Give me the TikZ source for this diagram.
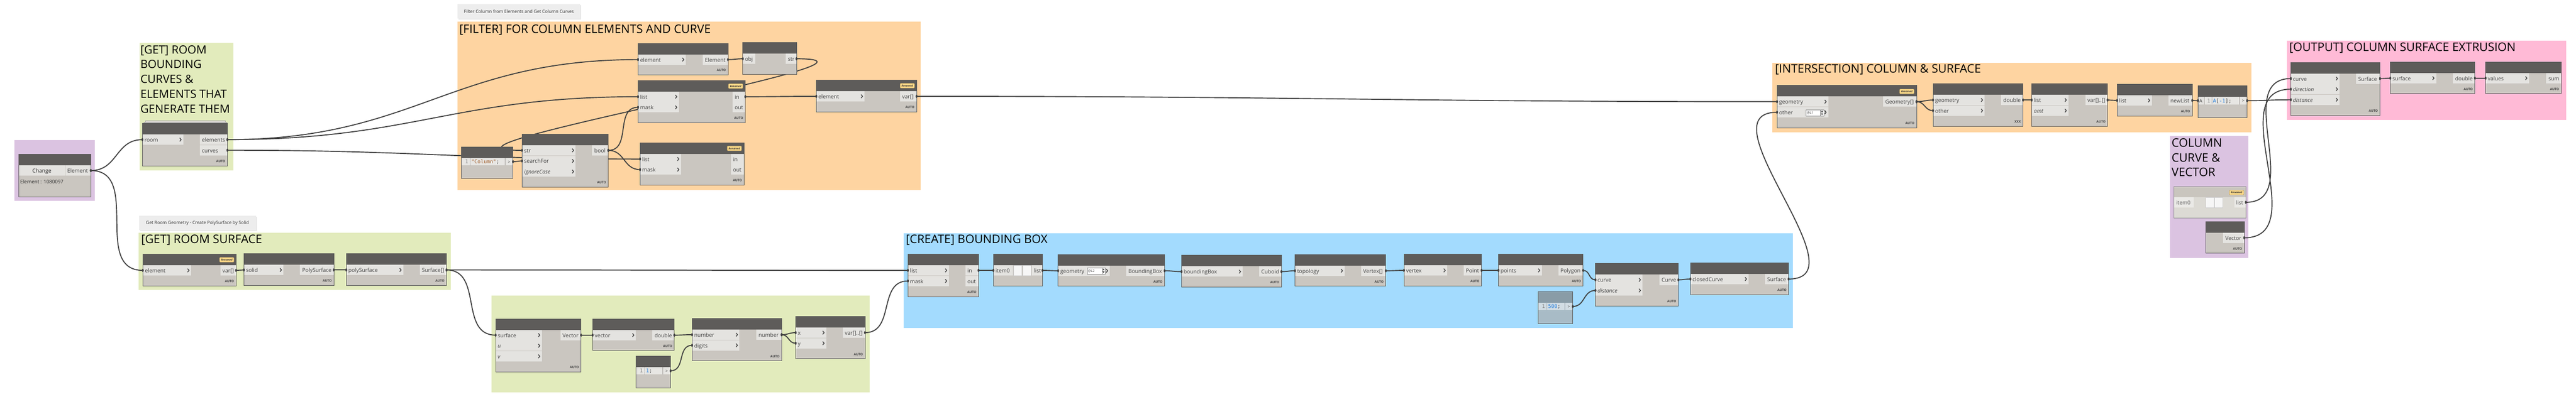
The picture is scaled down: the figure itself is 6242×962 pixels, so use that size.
\documentclass[tikz,border=0pt]{standalone}
\usepackage{fontspec}
\setmainfont{Open Sans}
\newfontfamily\codefont{DejaVu Sans Mono}
\usetikzlibrary{calc}
\pgfdeclarelayer{grp}
\pgfdeclarelayer{wires}
\pgfsetlayers{grp,wires,main}

\definecolor{hdc}{RGB}{94,92,90}
\definecolor{bdc}{RGB}{202,198,192}
\definecolor{portc}{RGB}{228,227,224}
\definecolor{edgec}{RGB}{88,88,88}
\definecolor{wirec}{RGB}{64,64,64}
\definecolor{txtc}{RGB}{66,66,66}
\definecolor{gGreen}{RGB}{226,235,188}
\definecolor{gOrange}{RGB}{254,212,161}
\definecolor{gBlue}{RGB}{163,219,254}
\definecolor{gPink}{RGB}{255,186,214}
\definecolor{gPurple}{RGB}{219,195,225}
\definecolor{notec}{RGB}{237,237,237}
\definecolor{badgec}{RGB}{254,217,136}
\definecolor{codestr}{RGB}{160,92,40}
\definecolor{codenum}{RGB}{38,128,222}
\definecolor{coderow}{RGB}{231,230,227}
\definecolor{fzhead}{RGB}{137,156,167}
\definecolor{fzbody}{RGB}{168,187,198}
\definecolor{fzrow}{RGB}{210,221,228}
\definecolor{lhead}{RGB}{201,197,190}
\definecolor{lbody}{RGB}{220,218,212}
\definecolor{lport}{RGB}{234,233,230}

\tikzset{
  nodebox/.style={draw=none,fill=bdc,inner sep=0pt,outer sep=0pt},
  plabel/.style={anchor=base west,inner sep=0pt,text=txtc,font=\fontsize{13}{15}\selectfont},
  autotxt/.style={anchor=base east,inner sep=0pt,text=txtc,font=\fontsize{7.8}{9}\selectfont\bfseries},
  chev/.style={draw=txtc,line width=1.8pt},
  codetxt/.style={anchor=base west,inner sep=0pt,text=txtc,font=\codefont\fontsize{12.5}{14}\selectfont},
  gtitle/.style={anchor=base west,inner sep=0pt,text=black,font=\fontsize{28.5}{34}\selectfont},
  wire/.style={draw=wirec,line width=2.4pt},
  nframe/.style={draw=edgec,line width=1.1pt},
  notebox/.style={fill=notec,inner sep=0pt,outer sep=0pt,anchor=north west,text=black!80,font=\fontsize{10.8}{12}\selectfont},
  btn/.style={fill=white!93!gray,draw=gray!40,line width=.4pt},
}

% node body: name, x1, y1, x2, y2
\newcommand{\dnode}[5]{%
  \node[nodebox,minimum width={#4-#2},minimum height={#5-#3},anchor=north west] (#1) at (#2,#3) {};
  \fill[hdc] (#2,#3) rectangle (#4,#3+27);
}
\newcommand{\dend}[1]{\draw[nframe] (#1.north west) rectangle (#1.south east);}
% input port: coord, x, rowtop, bgright, label
\newcommand{\dinp}[5]{%
  \fill[portc] (#2,#3) rectangle (#4,#3+25);
  \node[plabel] at (#2+5,#3+18) {#5};
  \draw[chev] (#4-8.5,#3+8.3) -- (#4-5,#3+12.5) -- (#4-8.5,#3+16.7);
  \coordinate (#1) at (#2,#3+12.5);
}
\newcommand{\dinpn}[5]{%
  \fill[portc] (#2,#3) rectangle (#4,#3+25);
  \node[plabel] at (#2+5,#3+18) {#5};
  \coordinate (#1) at (#2,#3+12.5);
}
% output port: coord, bgleft, rowtop, x2, label
\newcommand{\doutp}[5]{%
  \fill[portc] (#2,#3) rectangle (#4,#3+25);
  \node[plabel] at (#2+5,#3+18) {#5};
  \coordinate (#1) at (#4,#3+12.5);
}
\newcommand{\dlace}[3]{\node[autotxt] at (#1-5,#2-8.5) {#3};}
\newcommand{\rnbadge}[2]{%
  \draw[fill=badgec,draw=badgec!65!black,line width=.5pt,rounded corners=1.5pt] (#1-35,#2) rectangle (#1,#2+11.5);
  \node[font=\fontsize{6.2}{7}\selectfont\bfseries\itshape,text=black!80,inner sep=0pt] at (#1-17.5,#2+5.9) {Renamed};
}
% lacing box: x1,y1,x2,y2,text
\newcommand{\dlbox}[5]{%
  \fill[white] (#1,#2) rectangle (#3,#4);
  \draw[gray,line width=.6pt] (#1,#2) rectangle (#3,#4);
  \draw[gray,line width=.5pt] (#3-8,#2) -- (#3-8,#4);
  \fill[black!75] (#3-6.5,{(#2+#4)/2-1.5}) -- (#3-1.5,{(#2+#4)/2-1.5}) -- (#3-4,#2+2) -- cycle;
  \fill[black!75] (#3-6.5,{(#2+#4)/2+1.5}) -- (#3-1.5,{(#2+#4)/2+1.5}) -- (#3-4,#4-2) -- cycle;
  \node[font=\fontsize{8}{9}\selectfont,text=txtc,inner sep=0pt,anchor=base west] at (#1+2,#4-4) {#5};
}
% code block: name,x1,y1,x2,y2,code,head,body,row
\newcommand{\dcode}[9]{%
  \node[nodebox,fill=#8,minimum width={#4-#2},minimum height={#5-#3},anchor=north west] (#1) at (#2,#3) {};
  \fill[#7] (#2,#3) rectangle (#4,#3+27);
  \fill[#9] (#2,#3+27) rectangle (#4,#3+45);
  \draw[#8!80!black,line width=.5pt] (#4-19,#3+27) -- (#4-19,#3+45);
  \node[codetxt,font=\fontsize{10}{12}\selectfont] at (#4-12.5,#3+40) {>};
  \node[codetxt,text=gray] at (#2+9,#3+40.5) {1};
  \draw[gray,dotted,line width=.5pt] (#2+21,#3+28) -- (#2+21,#3+44);
  \node[codetxt] at (#2+24,#3+40.5) {#6};
  \draw[nframe] (#2,#3) rectangle (#4,#5);
  \coordinate (#1-out) at (#4,#3+36);
}
% connector
\newcommand{\dwire}[2]{%
  \begin{pgfonlayer}{wires}
    \draw[wire] let \p1=(#1),\p2=(#2),\n1={0.45*veclen(\x2-\x1,\y2-\y1)} in (#1) .. controls +(\n1,0) and +(-\n1,0) .. (#2);
  \end{pgfonlayer}
  \fill[wirec] (#1) ellipse (2.3pt and 3.9pt);
  \fill[wirec] (#2) ellipse (2.3pt and 3.9pt);
}

\begin{document}
\begin{tikzpicture}[x=1pt,y=-1pt]
\useasboundingbox (0,0) rectangle (6242,962);
\begin{pgfonlayer}{grp}
  \fill[white] (0,0) rectangle (6242,962);
  \fill[gPurple] (35,339) rectangle (230,487);
  \fill[gGreen] (338,104) rectangle (566,413);
  \fill[gOrange] (1108,52) rectangle (2231,461);
  \fill[gGreen] (336,564) rectangle (1092,703);
  \fill[gGreen] (1191,716) rectangle (2107,951);
  \fill[gBlue] (2190,565) rectangle (4345,795);
  \fill[gOrange] (4295,152) rectangle (5456,321);
  \fill[gPurple] (5258,329) rectangle (5448,625);
  \fill[gPink] (5541,99) rectangle (6218,291);
\end{pgfonlayer}

% ---------- notes ----------
\fill[black!9] (1111,12.5) rectangle (1408.5,47.5);
\node[notebox,minimum width=297,minimum height=35] (note1) at (1109,10) {Filter Column from Elements and Get Column Curves};
\fill[black!9] (339,525.5) rectangle (622.5,560.5);
\node[notebox,minimum width=283,minimum height=35] (note2) at (337,523) {Get Room Geometry - Create PolySurface by Solid};

% ---------- titles ----------
\node[gtitle,font=\fontsize{27.5}{33}\selectfont] (t1a) at (340,130) {[GET] ROOM};
\node[gtitle,font=\fontsize{27.5}{33}\selectfont] (t1b) at (340,166) {BOUNDING};
\node[gtitle,font=\fontsize{27.5}{33}\selectfont] (t1c) at (340,202) {CURVES \&};
\node[gtitle,font=\fontsize{27.5}{33}\selectfont] (t1d) at (340,238) {ELEMENTS THAT};
\node[gtitle,font=\fontsize{27.5}{33}\selectfont] (t1e) at (340,274) {GENERATE THEM};
\node[gtitle] (t2) at (1113,80) {[FILTER] FOR COLUMN ELEMENTS AND CURVE};
\node[gtitle] (t3) at (342,590) {[GET] ROOM SURFACE};
\node[gtitle] (t5) at (2195,590) {[CREATE] BOUNDING BOX};
\node[gtitle] (t6) at (4301,177) {[INTERSECTION] COLUMN \& SURFACE};
\node[gtitle] (t7a) at (5262,356) {COLUMN};
\node[gtitle] (t7b) at (5262,392) {CURVE \&};
\node[gtitle] (t7c) at (5262,428) {VECTOR};
\node[gtitle] (t8) at (5547,124) {[OUTPUT] COLUMN SURFACE EXTRUSION};

% ---------- group 0: select element ----------
\dnode{sel}{46}{374}{220}{477}
\fill[portc] (46,401) rectangle (157,426);
\node[plabel,anchor=base,text=black!85] at (101.5,419) {Change};
\doutp{sel-out}{158}{401}{220}{Element}
\node[plabel,font=\fontsize{12}{14}\selectfont,text=black!85] at (49,445) {Element : 1080097};
\dend{sel}

% ---------- group 1 ----------
\draw[edgec!55,fill=bdc!80,line width=.6pt] (352,293) rectangle (546,299);
\draw[edgec!55,fill=bdc!80,line width=.6pt] (349,296) rectangle (549,301);
\dnode{room}{345}{299}{551}{402}
\dinp{room-in}{345}{326}{444}{room}
\doutp{room-el}{484}{326}{551}{elements}
\doutp{room-cu}{484}{351.7}{551}{curves}
\dlace{551}{402}{AUTO}
\dend{room}

% ---------- group 2: filter ----------
\dnode{nA}{1546}{105}{1764}{182}
\dinp{nA-in}{1546}{132}{1662}{element}
\doutp{nA-out}{1703}{132}{1764}{Element}
\dlace{1764}{182}{AUTO}
\dend{nA}

\dnode{nB}{1800}{103}{1930}{180}
\dinpn{nB-in}{1800}{130}{1830}{obj}
\doutp{nB-out}{1904}{130}{1930}{str}
\dend{nB}

\dnode{nC}{1546}{195}{1806}{298}
\rnbadge{1800}{203}
\dinp{nC-list}{1546}{222}{1645}{list}
\dinp{nC-mask}{1546}{247.7}{1645}{mask}
\doutp{nC-in}{1775}{222}{1806}{in}
\doutp{nC-out}{1775}{247.7}{1806}{out}
\dlace{1806}{298}{AUTO}
\dend{nC}

\dnode{nD}{1978}{194}{2221}{271}
\rnbadge{2216}{202}
\dinp{nD-in}{1978}{221}{2095}{element}
\doutp{nD-out}{2181}{221}{2221}{var[]}
\dlace{2221}{271}{AUTO}
\dend{nD}

\dcode{cb1}{1118}{356}{1243}{433}{{\color{codestr}"Column"};}{hdc}{bdc}{coderow}

\dnode{sc}{1265}{325}{1474}{454}
\dinp{sc-str}{1265}{352}{1395}{str}
\dinp{sc-sf}{1265}{377.7}{1395}{searchFor}
\dinp{sc-ic}{1265}{403.4}{1395}{\textit{ignoreCase}}
\doutp{sc-out}{1435}{352}{1474}{bool}
\dlace{1474}{454}{AUTO}
\dend{sc}

\dnode{nE}{1551}{346}{1803}{449}
\rnbadge{1797}{354}
\dinp{nE-list}{1551}{373}{1650}{list}
\dinp{nE-mask}{1551}{398.7}{1650}{mask}
\doutp{nE-in}{1771}{373}{1803}{in}
\doutp{nE-out}{1771}{398.7}{1803}{out}
\dlace{1803}{449}{AUTO}
\dend{nE}

% ---------- group 3: room surface ----------
\dnode{n1}{346}{616}{572}{693}
\rnbadge{567}{624}
\dinp{n1-in}{346}{643}{463}{element}
\doutp{n1-out}{534}{643}{572}{var[]}
\dlace{572}{693}{AUTO}
\dend{n1}

\dnode{n2}{591}{615}{809}{692}
\dinp{n2-in}{591}{642}{687}{solid}
\doutp{n2-out}{727}{642}{809}{PolySurface}
\dlace{809}{692}{AUTO}
\dend{n2}

\dnode{n3}{839}{615}{1082}{692}
\dinp{n3-in}{839}{642}{977}{polySurface}
\doutp{n3-out}{1017}{642}{1082}{Surface[]}
\dlace{1082}{692}{AUTO}
\dend{n3}

% ---------- group 4: normal test ----------
\dnode{nap}{1201}{773}{1408}{902}
\dinp{nap-s}{1201}{800}{1313}{surface}
\dinp{nap-u}{1201}{825.7}{1313}{\textit{u}}
\dinp{nap-v}{1201}{851.4}{1313}{\textit{v}}
\doutp{nap-out}{1358}{800}{1408}{Vector}
\dlace{1408}{902}{AUTO}
\dend{nap}

\dnode{vz}{1436}{773}{1634}{850}
\dinp{vz-in}{1436}{800}{1541}{vector}
\doutp{vz-out}{1581}{800}{1634}{double}
\dlace{1634}{850}{AUTO}
\dend{vz}

\dcode{cb2}{1541}{863}{1625}{940}{{\color{codenum}1};}{hdc}{bdc}{coderow}

\dnode{mr}{1677}{772}{1894}{875}
\dinp{mr-n}{1677}{799}{1792}{number}
\dinp{mr-d}{1677}{824.7}{1792}{digits}
\doutp{mr-out}{1833}{799}{1894}{number}
\dlace{1894}{875}{AUTO}
\dend{mr}

\dnode{eq}{1928}{767}{2096}{870}
\dinp{eq-x}{1928}{794}{2002}{x}
\dinp{eq-y}{1928}{819.7}{2002}{y}
\doutp{eq-out}{2042}{794}{2096}{var[]..[]}
\dlace{2096}{870}{AUTO}
\dend{eq}

% ---------- group 5: bounding box ----------
\dnode{bf}{2200}{616}{2371}{719}
\dinp{bf-list}{2200}{643}{2299}{list}
\dinp{bf-mask}{2200}{668.7}{2299}{mask}
\doutp{bf-in}{2339}{643}{2371}{in}
\doutp{bf-out}{2339}{668.7}{2371}{out}
\dlace{2371}{719}{AUTO}
\dend{bf}

\dnode{lc}{2407}{616}{2526}{693}
\dinpn{lc-in}{2407}{643}{2454}{item0}
\fill[btn] (2456,643) rectangle (2476,668);
\fill[btn] (2478,643) rectangle (2498,668);
\doutp{lc-out}{2500}{643}{2526}{list}
\dend{lc}

\dnode{bbg}{2564}{617}{2822}{694}
\dinp{bbg-in}{2564}{644}{2689}{geometry}
\dlbox{2634}{649}{2678}{664}{@L2}
\doutp{bbg-out}{2729}{644}{2822}{BoundingBox}
\dlace{2822}{694}{AUTO}
\dend{bbg}

\dnode{btc}{2863}{619}{3105}{696}
\dinp{btc-in}{2863}{646}{3011}{boundingBox}
\doutp{btc-out}{3051}{646}{3105}{Cuboid}
\dlace{3105}{696}{AUTO}
\dend{btc}

\dnode{tv}{3138}{617}{3358}{694}
\dinp{tv-in}{3138}{644}{3258}{topology}
\doutp{tv-out}{3298}{644}{3358}{Vertex[]}
\dlace{3358}{694}{AUTO}
\dend{tv}

\dnode{vpg}{3402}{616}{3590}{693}
\dinp{vpg-in}{3402}{643}{3507}{vertex}
\doutp{vpg-out}{3547}{643}{3590}{Point}
\dlace{3590}{693}{AUTO}
\dend{vpg}

\dnode{pbp}{3631}{616}{3836}{693}
\dinp{pbp-in}{3631}{643}{3736}{points}
\doutp{pbp-out}{3776}{643}{3836}{Polygon}
\dlace{3836}{693}{AUTO}
\dend{pbp}

\dnode{co}{3866}{639}{4067}{742}
\dinp{co-c}{3866}{666}{3980}{curve}
\dinp{co-d}{3866}{691.7}{3980}{\textit{distance}}
\doutp{co-out}{4021}{666}{4067}{Curve}
\dlace{4067}{742}{AUTO}
\dend{co}

\dcode{cb3}{3727}{707}{3811}{784}{{\color{codenum}500};}{fzhead}{fzbody}{fzrow}

\dnode{sbp}{4096}{637}{4334}{714}
\dinp{sbp-in}{4096}{664}{4237}{closedCurve}
\doutp{sbp-out}{4277}{664}{4334}{Surface}
\dlace{4334}{714}{AUTO}
\dend{sbp}

% ---------- group 6: intersection ----------
\dnode{int}{4306}{207}{4644}{310}
\rnbadge{4638}{216}
\dinp{int-g}{4306}{234}{4430}{geometry}
\dinp{int-o}{4306}{259.7}{4430}{other}
\dlbox{4376}{266}{4419}{281}{@L1}
\doutp{int-out}{4563}{234}{4644}{Geometry[]}
\dlace{4644}{310}{AUTO}
\dend{int}

\dnode{dt}{4684}{203}{4902}{306}
\dinp{dt-g}{4684}{230}{4809}{geometry}
\dinp{dt-o}{4684}{255.7}{4809}{other}
\doutp{dt-out}{4849}{230}{4902}{double}
\dlace{4902}{306}{XXX}
\dend{dt}

\dnode{ls}{4923}{203}{5107}{306}
\dinp{ls-l}{4923}{230}{5012}{list}
\dinp{ls-a}{4923}{255.7}{5012}{\textit{amt}}
\doutp{ls-out}{5053}{230}{5107}{var[]..[]}
\dlace{5107}{306}{AUTO}
\dend{ls}

\dnode{lf}{5130}{204}{5312}{281}
\dinp{lf-in}{5130}{231}{5214}{list}
\doutp{lf-out}{5254}{231}{5312}{newList}
\dlace{5312}{281}{AUTO}
\dend{lf}

\node[nodebox,minimum width=119,minimum height=77,anchor=north west] (cb4) at (5326,208) {};
\fill[hdc] (5326,208) rectangle (5445,235);
\fill[coderow] (5326,235) rectangle (5445,253);
\fill[portc] (5326,235) rectangle (5341,253);
\draw[bdc!80!black,line width=.5pt] (5341,235) -- (5341,253);
\node[plabel,font=\fontsize{11.5}{13}\selectfont] at (5329,248.5) {A};
\node[codetxt,text=gray] at (5348,248.5) {1};
\draw[gray,dotted,line width=.5pt] (5359,236) -- (5359,252);
\node[codetxt] at (5362,248.5) {{\color{codenum}A}[{\color{codenum}-1}];};
\draw[bdc!80!black,line width=.5pt] (5426,235) -- (5426,253);
\node[codetxt,font=\fontsize{10}{12}\selectfont] at (5432.5,248) {>};
\coordinate (cb4-in) at (5326,244);
\coordinate (cb4-out) at (5445,244);
\dend{cb4}

% ---------- group 7: column curve & vector ----------
\node[nodebox,fill=lbody,minimum width=174,minimum height=77,anchor=north west] (lc2) at (5268,452) {};
\fill[lhead] (5268,452) rectangle (5442,478);
\rnbadge{5437}{461}
\fill[lport] (5268,478) rectangle (5315,503);
\node[plabel,text=txtc!85] at (5273,496) {item0};
\fill[btn] (5344,478) rectangle (5364,503);
\fill[btn] (5366,478) rectangle (5386,503);
\fill[lport] (5414,478) rectangle (5442,503);
\node[plabel,text=txtc!85] at (5418,496) {list};
\coordinate (lc2-out) at (5442,490.5);
\draw[draw=gray!90,line width=1.1pt] (lc2.north west) rectangle (lc2.south east);

\dnode{vza}{5345}{537}{5438}{614}
\doutp{vza-out}{5387}{564}{5438}{Vector}
\dlace{5438}{614}{AUTO}
\dend{vza}

% ---------- group 8: output ----------
\dnode{ex}{5551}{151}{5767}{280}
\dinp{ex-c}{5551}{178}{5669}{curve}
\dinp{ex-dir}{5551}{203.7}{5669}{\textit{direction}}
\dinp{ex-dis}{5551}{229.4}{5669}{\textit{distance}}
\doutp{ex-out}{5709}{178}{5767}{Surface}
\dlace{5767}{280}{AUTO}
\dend{ex}

\dnode{sa}{5792}{150}{5997}{227}
\dinp{sa-in}{5792}{177}{5903}{surface}
\doutp{sa-out}{5944}{177}{5997}{double}
\dlace{5997}{227}{AUTO}
\dend{sa}

\dnode{ms}{6023}{150}{6206}{227}
\dinp{ms-in}{6023}{177}{6128}{values}
\doutp{ms-out}{6170}{177}{6206}{sum}
\dlace{6206}{227}{AUTO}
\dend{ms}

% ---------- connectors ----------
\dwire{sel-out}{room-in}
\dwire{sel-out}{n1-in}
\dwire{room-el}{nA-in}
\dwire{room-el}{nC-list}
\dwire{room-cu}{nE-list}
\dwire{nA-out}{nB-in}
\dwire{nB-out}{sc-str}
\dwire{cb1-out}{sc-sf}
\dwire{sc-out}{nC-mask}
\dwire{sc-out}{nE-mask}
\dwire{nC-in}{nD-in}
\dwire{nD-out}{int-g}
\dwire{n1-out}{n2-in}
\dwire{n2-out}{n3-in}
\dwire{n3-out}{bf-list}
\dwire{n3-out}{nap-s}
\dwire{nap-out}{vz-in}
\dwire{vz-out}{mr-n}
\dwire{cb2-out}{mr-d}
\dwire{mr-out}{eq-x}
\dwire{mr-out}{eq-y}
\dwire{eq-out}{bf-mask}
\dwire{bf-in}{lc-in}
\dwire{lc-out}{bbg-in}
\dwire{bbg-out}{btc-in}
\dwire{btc-out}{tv-in}
\dwire{tv-out}{vpg-in}
\dwire{vpg-out}{pbp-in}
\dwire{pbp-out}{co-c}
\dwire{cb3-out}{co-d}
\dwire{co-out}{sbp-in}
\dwire{sbp-out}{int-o}
\dwire{int-out}{dt-g}
\dwire{int-out}{dt-o}
\dwire{dt-out}{ls-l}
\dwire{ls-out}{lf-in}
\dwire{lf-out}{cb4-in}
\dwire{cb4-out}{ex-dis}
\dwire{lc2-out}{ex-c}
\dwire{vza-out}{ex-dir}
\dwire{ex-out}{sa-in}
\dwire{sa-out}{ms-in}
\end{tikzpicture}
\end{document}
